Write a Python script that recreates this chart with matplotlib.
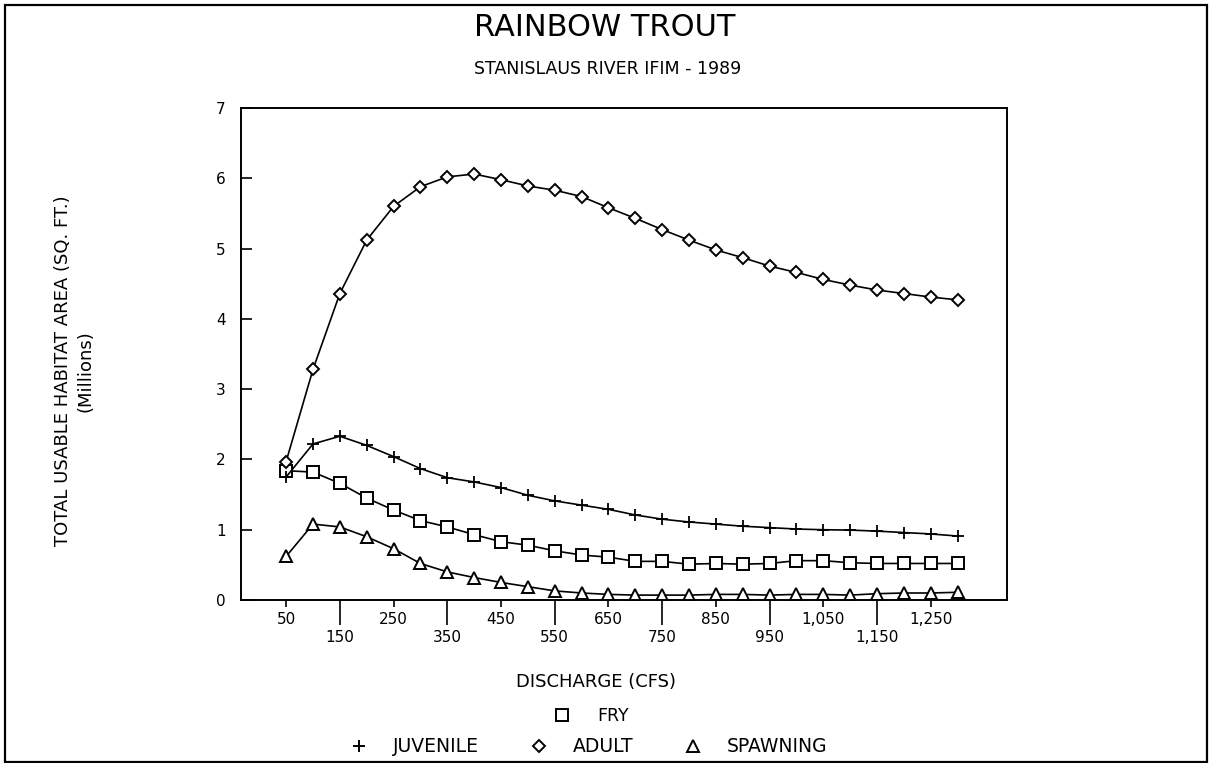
import matplotlib
matplotlib.use('Agg')
import matplotlib.pyplot as plt
from matplotlib.lines import Line2D
from matplotlib.patches import Rectangle

# discharge (cfs) and habitat area (millions sq. ft.)
discharge = [50, 100, 150, 200, 250, 300, 350, 400, 450, 500, 550, 600, 650,
             700, 750, 800, 850, 900, 950, 1000, 1050, 1100, 1150, 1200, 1250, 1300]
fry = [1.84, 1.82, 1.66, 1.45, 1.28, 1.13, 1.04, 0.93, 0.83, 0.78, 0.70, 0.64, 0.61,
       0.55, 0.55, 0.51, 0.52, 0.51, 0.52, 0.56, 0.56, 0.53, 0.52, 0.52, 0.52, 0.52]
juvenile = [1.75, 2.22, 2.33, 2.20, 2.04, 1.87, 1.74, 1.68, 1.60, 1.49, 1.41, 1.35, 1.29,
            1.21, 1.15, 1.11, 1.08, 1.05, 1.03, 1.01, 1.00, 0.995, 0.98, 0.96, 0.94, 0.91]
adult = [1.97, 3.28, 4.36, 5.12, 5.60, 5.88, 6.02, 6.06, 5.98, 5.89, 5.83, 5.74, 5.58,
         5.43, 5.27, 5.12, 4.98, 4.87, 4.75, 4.66, 4.56, 4.48, 4.41, 4.36, 4.31, 4.27]
spawning = [0.62, 1.08, 1.04, 0.90, 0.73, 0.52, 0.40, 0.32, 0.25, 0.19, 0.13, 0.10, 0.08,
            0.07, 0.07, 0.07, 0.08, 0.08, 0.07, 0.08, 0.08, 0.07, 0.09, 0.10, 0.10, 0.11]

upper_ticks = [50, 250, 450, 650, 850, 1050, 1250]
upper_labels = ['50', '250', '450', '650', '850', '1,050', '1,250']
lower_ticks = [150, 350, 550, 750, 950, 1150]
lower_labels = ['150', '350', '550', '750', '950', '1,150']

plt.rcParams['font.family'] = ['DejaVu Sans']

fig = plt.figure(figsize=(12.11, 7.63), dpi=100)
ax = fig.add_axes([0.199, 0.2136, 0.6326, 0.6449])

mk = dict(color='black', lw=1.2, mfc='white', mec='black')
ax.plot(discharge, fry, marker='s', ms=8, mew=1.4, **mk)
ax.plot(discharge, juvenile, marker='+', ms=9, mew=1.3, **mk)
ax.plot(discharge, adult, marker='D', ms=6, mew=1.4, **mk)
ax.plot(discharge, spawning, marker='^', ms=8, mew=1.4, **mk)

ax.set_xlim(-34, 1392)
ax.set_ylim(0, 7)

ax.set_xticks(upper_ticks, upper_labels)
ax.set_xticks(lower_ticks, lower_labels, minor=True)
ax.tick_params(axis='x', which='major', direction='out', length=5, width=1.2,
               pad=3.5, labelsize=11)
ax.tick_params(axis='x', which='minor', direction='out', length=18, width=1.2,
               pad=3.5, labelsize=11)
ax.set_yticks(range(0, 8))
ax.tick_params(axis='y', direction='in', length=8, width=1.2, pad=11, labelsize=11)
for s in ax.spines.values():
    s.set_linewidth(1.4)

fig.text(0.4996, 0.9646, 'RAINBOW TROUT', ha='center', va='center', fontsize=22)
fig.text(0.502, 0.9096, 'STANISLAUS RIVER IFIM - 1989', ha='center', va='center',
         fontsize=12.5)
fig.text(0.0615, 0.514, 'TOTAL USABLE HABITAT AREA (SQ. FT.)\n(Millions)',
         rotation=90, ha='center', va='center', fontsize=13, linespacing=1.35)
fig.text(0.492, 0.106, 'DISCHARGE (CFS)', ha='center', va='center', fontsize=13)

# legend, marker only
def proxy(m, ms):
    return Line2D([], [], ls='none', marker=m, ms=ms, mfc='white', mec='black',
                  mew=1.4, color='black')

leg1 = fig.legend([proxy('s', 8)], ['FRY'], loc='center',
                  bbox_to_anchor=(0.489, 0.062), frameon=False, fontsize=12.5,
                  handlelength=0.8, handletextpad=1.6)
leg2 = fig.legend([proxy('+', 9), proxy('D', 6), proxy('^', 8)],
                  ['JUVENILE', 'ADULT', 'SPAWNING'], loc='center',
                  bbox_to_anchor=(0.487, 0.021), frameon=False, fontsize=13.5,
                  ncol=3, handlelength=0.8, handletextpad=1.4, columnspacing=2.8)

# outer frame
fig.patches.append(Rectangle((0.004, 0.0013), 0.9927, 0.9921, transform=fig.transFigure,
                             fill=False, lw=1.6, ec='black'))

fig.savefig('out.png', dpi=100)
